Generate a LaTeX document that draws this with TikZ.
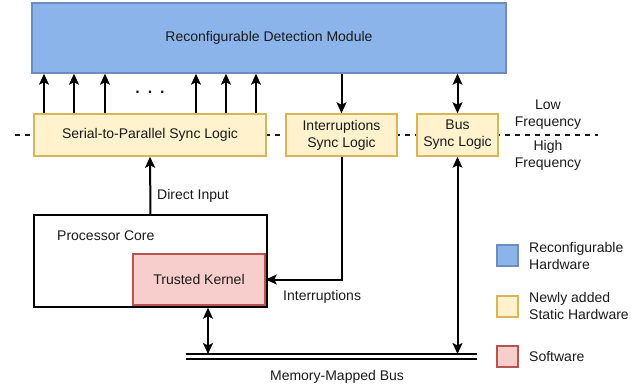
\documentclass[tikz,border=0pt]{standalone}
\usepackage{fontspec}
\setmainfont{Liberation Sans}
\usetikzlibrary{arrows.meta}
\definecolor{bluefill}{HTML}{8BB5EA}
\definecolor{bluedraw}{HTML}{6C8EBF}
\definecolor{yelfill}{HTML}{FFF2CC}
\definecolor{yeldraw}{HTML}{D6B656}
\definecolor{redfill}{HTML}{F8CECC}
\definecolor{reddraw}{HTML}{B85450}
\definecolor{txt}{HTML}{1A1A1A}
\begin{document}
\begin{tikzpicture}[x=1pt,y=-1pt,
  font=\fontsize{14}{17}\selectfont, text=txt,
  box/.style={draw, line width=1.5pt, inner sep=0pt, align=center},
  bluebox/.style={box, fill=bluefill, draw=bluedraw},
  yelbox/.style={box, fill=yelfill, draw=yeldraw},
  redbox/.style={box, fill=redfill, draw=reddraw},
  plainbox/.style={box, fill=white, draw=black},
  arr/.style={line width=2pt, -{Stealth[length=11pt,width=10pt,inset=2.5pt]}},
  darr/.style={line width=2pt, {Stealth[length=11pt,width=10pt,inset=2.5pt]}-{Stealth[length=11pt,width=10pt,inset=2.5pt]}},
  freq/.style={dash pattern=on 5pt off 5pt, line width=1.5pt, draw=txt},
  lbl/.style={inner sep=0pt, align=left},
  legbox/.style={box, minimum width=21pt, minimum height=21pt}
]
\useasboundingbox (0,0) rectangle (643,389);

% frequency boundary
\coordinate (fl) at (15,135);
\coordinate (fr) at (598,135);
\draw[freq] (fl) -- (fr);

% main blocks
\node[bluebox, minimum width=474pt, minimum height=70pt] (rdm) at (269,38) {Reconfigurable Detection Module};
\node[yelbox, minimum width=232pt, minimum height=42pt] (sp) at (150,135) {Serial-to-Parallel Sync Logic};
\node[yelbox, minimum width=111pt, minimum height=42pt] (is) at (341.5,135) {Interruptions\\Sync Logic};
\node[yelbox, minimum width=81pt, minimum height=42pt] (bs) at (457.5,135) {Bus\\Sync Logic};
\node[plainbox, minimum width=233pt, minimum height=92pt] (proc) at (150.5,261) {};
\node[lbl, anchor=west] (proclbl) at (57,236) {Processor Core};
\node[redbox, minimum width=132pt, minimum height=51pt] (tk) at (199,279.5) {Trusted Kernel};

% parallel arrows
\foreach \xx in {44,74,105,196,226,256}{
  \draw[arr] (sp.north -| \xx,0) -- (rdm.south -| \xx,0);
}
\node[inner sep=0pt, font=\fontsize{16}{16}\selectfont\bfseries] (dots) at (150,92.5) {.\hspace{8pt}.\hspace{8pt}.};

% interruptions
\draw[arr] (rdm.south -| is.north) -- (is.north);
\draw[arr] (is.south) |- (tk.east);
\node[lbl, anchor=west] (intlbl) at (283,297) {Interruptions};

% bus sync
\draw[darr] (rdm.south -| bs.north) -- (bs.north);

% direct input
\draw[arr] (proc.north) -- (sp.south);
\node[lbl, anchor=west] (dilbl) at (157,196) {Direct Input};

% memory mapped bus
\coordinate (busL) at (186,354);
\coordinate (busR) at (477,354);
\coordinate (busL2) at (186,359);
\coordinate (busR2) at (477,359);
\draw[line width=1.5pt] (busL) -- (busR);
\draw[line width=1.5pt] (busL2) -- (busR2);
\node[inner sep=0pt] (buslbl) at (337,377) {Memory-Mapped Bus};
\draw[darr] (proc.south -| 208,0) -- (busL -| 208,0);
\draw[darr] (bs.south) -- (busL -| bs.south);

% frequency labels
\node[inner sep=0pt, align=center] (low) at (548,115) {Low\\Frequency};
\node[inner sep=0pt, align=center] (high) at (548,155) {High\\Frequency};

% legend
\node[legbox, fill=bluefill, draw=bluedraw] (lg1) at (507.5,255.5) {};
\node[legbox, fill=yelfill, draw=yeldraw] (lg2) at (507.5,306.5) {};
\node[legbox, fill=redfill, draw=reddraw] (lg3) at (507.5,356.5) {};
\node[lbl, anchor=west] (lt1) at (529,255.5) {Reconfigurable\\Hardware};
\node[lbl, anchor=west] (lt2) at (529,305.5) {Newly added\\Static Hardware};
\node[lbl, anchor=west] (lt3) at (529,356) {Software};
\end{tikzpicture}
\end{document}
